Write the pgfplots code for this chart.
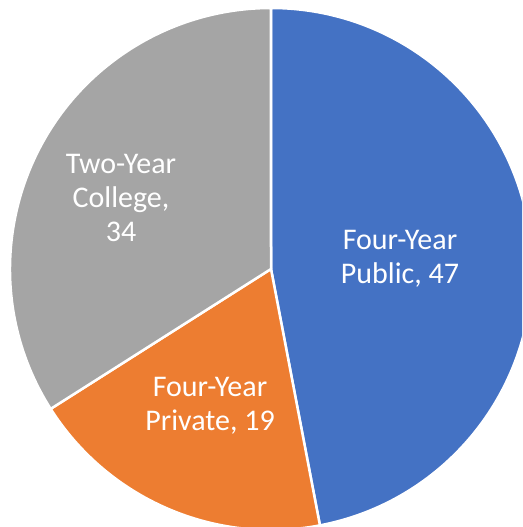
\documentclass[border=0pt]{standalone}
\usepackage{pgfplots}
\usepackage{pgfplotstable}
\usepackage{fontspec}
\setmainfont{Carlito}
\pgfplotsset{compat=1.18}

\definecolor{pieblue}{HTML}{4472C4}
\definecolor{pieorange}{HTML}{ED7D31}
\definecolor{piegray}{HTML}{A5A5A5}

\pgfplotstableread{
label value
Public 47
Private 19
College 34
}\piedata

\tikzset{slicelabel/.style={text=white, align=center, font=\fontsize{30}{34}\selectfont}}

\begin{document}
\begin{tikzpicture}
% slice angles from the table, clockwise from the top
\pgfplotstablegetelem{0}{value}\of\piedata \pgfmathsetmacro\va{\pgfplotsretval}
\pgfplotstablegetelem{1}{value}\of\piedata \pgfmathsetmacro\vb{\pgfplotsretval}
\pgfplotstablegetelem{2}{value}\of\piedata \pgfmathsetmacro\vc{\pgfplotsretval}
\pgfmathsetmacro\tot{\va+\vb+\vc}
\pgfmathsetmacro\aone{90-360*(\va/\tot)}
\pgfmathsetmacro\atwo{\aone-360*(\vb/\tot)}
\pgfmathsetmacro\athree{\atwo-360*(\vc/\tot)}
\def\rad{261pt}
\useasboundingbox (0,0) rectangle (522pt,527pt);
\begin{axis}[
    at={(0,0)}, anchor=south west,
    width=522pt, height=527pt,
    scale only axis,
    xmin=0, xmax=522,
    ymin=0, ymax=527,
    hide axis,
]
\addplot[draw=none] coordinates {(0,0) (522,527)};
\filldraw[fill=pieblue, draw=white, line width=2.5pt, line join=round]
    (axis cs:271,258) -- ++(90:\rad) arc[start angle=90, end angle=\aone, radius=\rad] -- cycle;
\filldraw[fill=pieorange, draw=white, line width=2.5pt, line join=round]
    (axis cs:271,258) -- ++(\aone:\rad) arc[start angle=\aone, end angle=\atwo, radius=\rad] -- cycle;
\filldraw[fill=piegray, draw=white, line width=2.5pt, line join=round]
    (axis cs:271,258) -- ++(\atwo:\rad) arc[start angle=\atwo, end angle=\athree, radius=\rad] -- cycle;
\node[slicelabel] at (axis cs:400,268) {Four-Year\\Public, 47};
\node[slicelabel] at (axis cs:210,121) {Four-Year\\Private, 19};
\node[slicelabel] at (axis cs:121,329) {Two-Year\\College,\\34};
\end{axis}
\end{tikzpicture}
\end{document}
